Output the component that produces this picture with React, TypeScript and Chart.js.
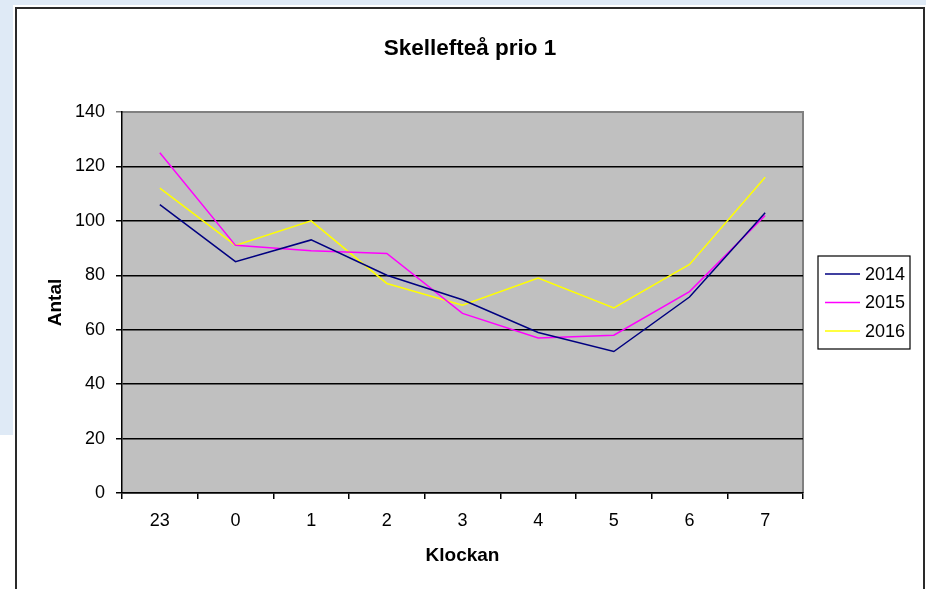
import React, { useEffect, useRef } from "react";
import { Chart, registerables } from "chart.js";

Chart.register(...registerables);

const hours = ["23", "0", "1", "2", "3", "4", "5", "6", "7"];
const series2014 = [106, 85, 93, 80, 71, 59, 52, 72, 103];
const series2015 = [125, 91, 89, 88, 66, 57, 58, 74, 102];
const series2016 = [112, 91, 100, 77, 69, 79, 68, 84, 116];
const seriesNames = ["2014", "2015", "2016"];
const seriesColors = ["#000080", "#ff00ff", "#ffff00"];

const FONT = "'Liberation Sans', Arial, Helvetica, sans-serif";

const plotBg = {
  id: "plotBg",
  beforeDraw(chart: any) {
    const { ctx, chartArea: a } = chart;
    ctx.save();
    ctx.fillStyle = "#c0c0c0";
    ctx.fillRect(a.left, a.top, a.right - a.left, a.bottom - a.top);
    ctx.strokeStyle = "#808080";
    ctx.lineWidth = 2;
    ctx.beginPath();
    ctx.moveTo(a.left, a.top);
    ctx.lineTo(a.right, a.top);
    ctx.lineTo(a.right, a.bottom);
    ctx.stroke();
    ctx.restore();
  },
};

const legendBox = {
  id: "legendBox",
  afterDraw(chart: any) {
    const { ctx, chartArea: a } = chart;
    const x0 = a.right + 15;
    const y0 = 247;
    const w = 92;
    const h = 93;
    ctx.save();
    ctx.fillStyle = "#ffffff";
    ctx.fillRect(x0, y0, w, h);
    ctx.strokeStyle = "#000";
    ctx.lineWidth = 1.2;
    ctx.strokeRect(x0, y0, w, h);
    ctx.font = `18px ${FONT}`;
    ctx.textBaseline = "middle";
    ctx.textAlign = "left";
    chart.data.datasets.forEach((ds: any, i: number) => {
      const y = y0 + 18 + i * 28.5;
      ctx.strokeStyle = ds.borderColor;
      ctx.lineWidth = 1.5;
      ctx.beginPath();
      ctx.moveTo(x0 + 7, y);
      ctx.lineTo(x0 + 42, y);
      ctx.stroke();
      ctx.fillStyle = "#000";
      ctx.fillText(ds.label, x0 + 47, y + 1);
    });
    ctx.restore();
  },
};

function ChartView() {
  const ref = useRef<HTMLCanvasElement | null>(null);
  useEffect(() => {
    if (!ref.current) return;
    const values = [series2014, series2015, series2016];
    const chart = new Chart(ref.current, {
      type: "line",
      data: {
        labels: hours,
        datasets: values.map((v, i) => ({
          label: seriesNames[i],
          data: v,
          borderColor: seriesColors[i],
          backgroundColor: seriesColors[i],
          borderWidth: 1.5,
          pointRadius: 0,
          tension: 0,
          fill: false,
        })),
      },
      options: {
        animation: false,
        responsive: false,
        maintainAspectRatio: false,
        layout: { padding: { left: 0, top: 0, right: 0, bottom: 0 } },
        plugins: {
          legend: { display: false },
          tooltip: { enabled: false },
          title: {
            display: true,
            text: "Skellefteå prio 1",
            color: "#000",
            font: { family: FONT, size: 22.5, weight: "bold" },
            padding: { top: 26, bottom: 50 },
          },
        },
        scales: {
          x: {
            type: "category",
            offset: true,
            grid: {
              display: true,
              offset: true,
              drawOnChartArea: false,
              drawTicks: true,
              tickLength: 6,
              color: "#000",
              lineWidth: 1.5,
            },
            border: { display: true, color: "#000", width: 1.5 },
            ticks: {
              color: "#000",
              font: { family: FONT, size: 18 },
              padding: 11,
              maxRotation: 0,
            },
            title: {
              display: true,
              text: "Klockan",
              color: "#000",
              font: { family: FONT, size: 19, weight: "bold" },
              padding: { top: 0, bottom: 22 },
            },
            afterFit(scale: any) {
              scale.height = 96;
            },
          },
          y: {
            min: 0,
            max: 140,
            ticks: {
              stepSize: 20,
              color: "#000",
              font: { family: FONT, size: 18 },
              padding: 11,
            },
            grid: {
              color: (c: any) => (c.tick && c.tick.value === 140 ? "#808080" : "#000"),
              lineWidth: 1.5,
              tickLength: 6,
              drawTicks: true,
            },
            border: { display: true, color: "#000", width: 1.5 },
            title: {
              display: true,
              text: "Antal",
              color: "#000",
              font: { family: FONT, size: 19, weight: "bold" },
              padding: { top: 27, bottom: 0 },
            },
            afterFit(scale: any) {
              scale.width = 105;
            },
          },
          legendSpace: {
            type: "linear",
            position: "right",
            display: true,
            min: 0,
            max: 140,
            grid: { display: false, drawOnChartArea: false, drawTicks: false },
            border: { display: false },
            ticks: { display: false },
            afterFit(scale: any) {
              scale.width = 120;
            },
          },
        },
      },
      plugins: [plotBg, legendBox],
    });
    return () => chart.destroy();
  }, []);
  return (
    <canvas
      ref={ref}
      width={906}
      height={580}
      style={{ position: "absolute", left: 17, top: 9, width: 906, height: 580 }}
    />
  );
}

export default function App() {
  return (
    <div
      style={{
        position: "fixed",
        left: 0,
        top: 0,
        width: 926,
        height: 589,
        overflow: "hidden",
        background: "#dfeaf6",
      }}
    >
      <div style={{ position: "absolute", left: 13, top: 5, width: 913, height: 584, background: "#ffffff" }} />
      <div style={{ position: "absolute", left: 0, top: 435, width: 13, height: 154, background: "#ffffff" }} />
      <div
        style={{
          position: "absolute",
          left: 15,
          top: 7,
          width: 906,
          height: 600,
          border: "2px solid #2a2a2a",
          background: "#ffffff",
        }}
      />
      <ChartView />
    </div>
  );
}
